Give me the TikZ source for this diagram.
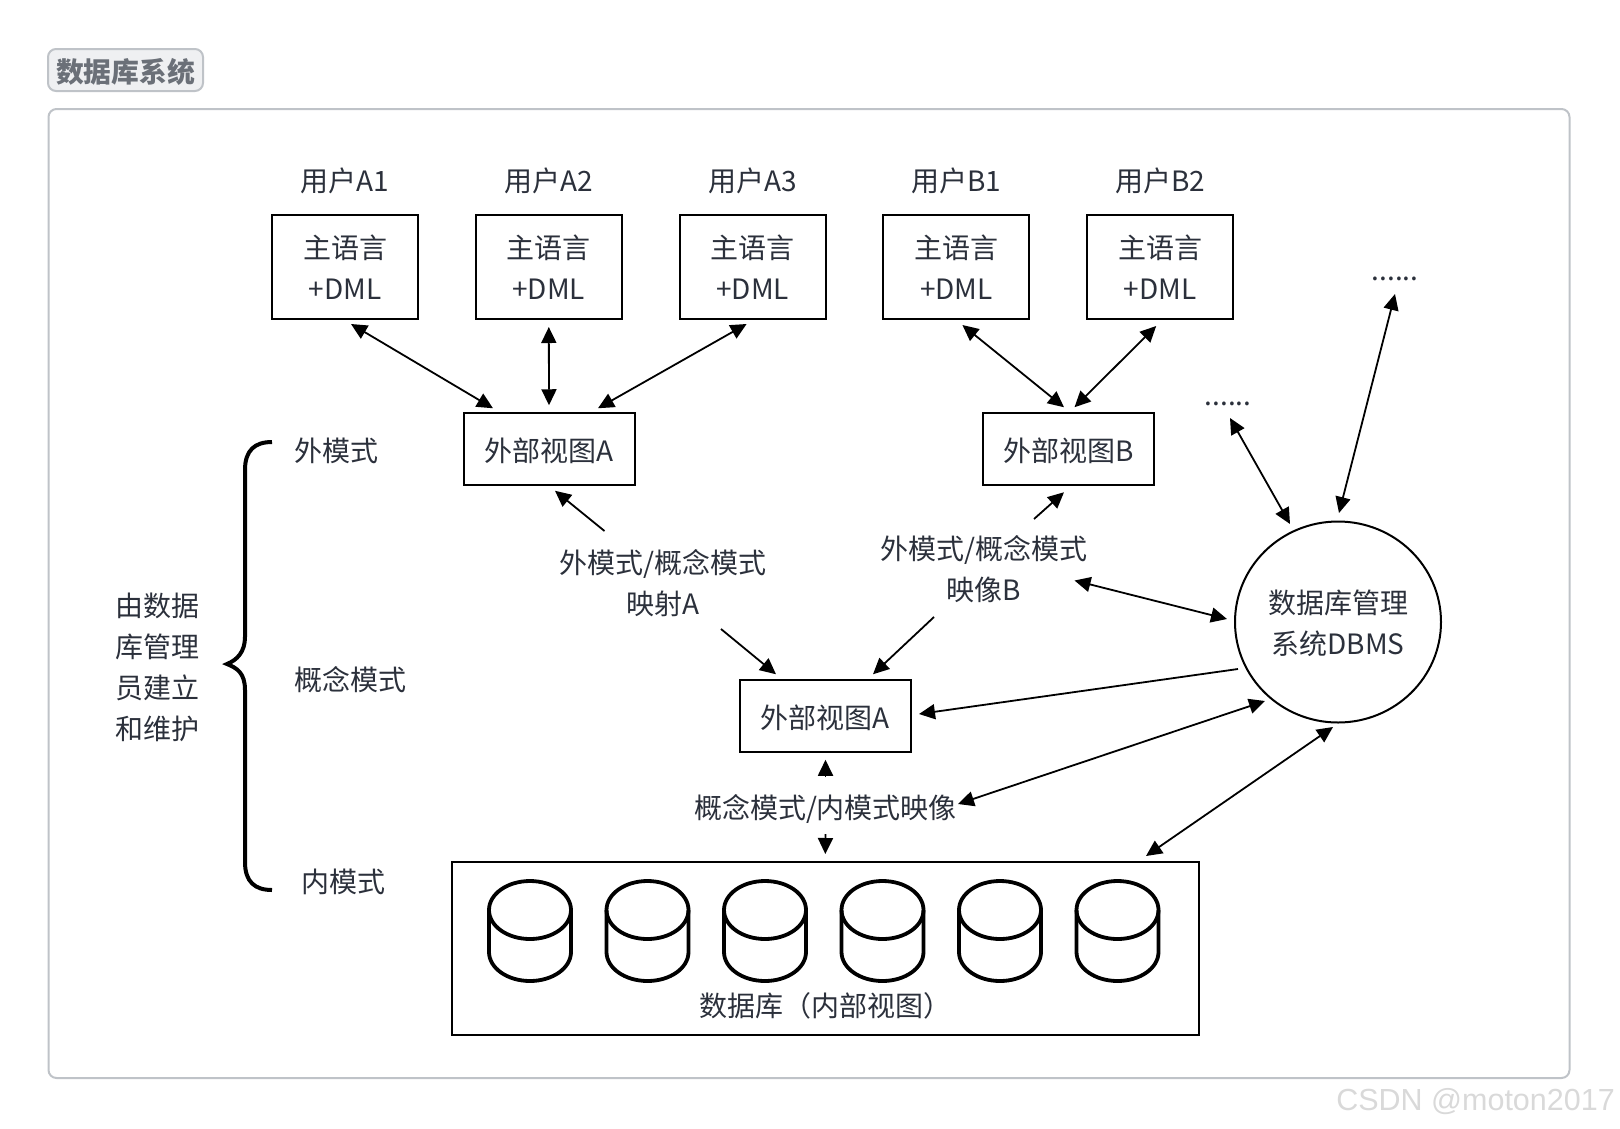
\documentclass[tikz,border=0pt]{standalone}
\usepackage{xcolor}
\usepackage{fontspec}
\usepackage{tikz}
\usetikzlibrary{arrows.meta,positioning,shapes.geometric}
\setmainfont{Noto Sans CJK SC}
\setsansfont{Liberation Sans}
\definecolor{inkgray}{HTML}{2B303B}
\definecolor{framegray}{HTML}{BFC3C8}
\definecolor{tagfill}{HTML}{EFF0F2}
\definecolor{taggray}{HTML}{6B7078}
\definecolor{markgray}{HTML}{D9D9D9}
\begin{document}
\begin{tikzpicture}[
    x=1pt, y=-1pt,
    node distance=55.8pt,
    every node/.style={text=inkgray, inner sep=0pt, font=\fontsize{28}{41}\selectfont, align=center},
    oneline/.style={text height=25.5pt, text depth=0pt},
    twoline/.style={text height=65.2pt, text depth=0pt},
    hostbox/.style={draw=black, line width=2pt, minimum width=146pt, minimum height=104pt, twoline},
    viewbox/.style={draw=black, line width=2pt, minimum width=171pt, minimum height=71.5pt, oneline},
    arrow/.style={{Triangle[length=16pt,width=15pt]}-{Triangle[length=16pt,width=15pt]}, line width=1.8pt, draw=black},
    toarrow/.style={-{Triangle[length=16pt,width=15pt]}, line width=1.8pt, draw=black},
    drum/.style={draw=black, line width=3.8pt, line join=round}
]
\useasboundingbox (0,0) rectangle (1620,1128);
\node[draw=framegray, line width=2pt, rounded corners=8pt, minimum width=1521pt, minimum height=969pt] (frame) at (809,593.5) {};
\node[draw=framegray, fill=tagfill, line width=2pt, rounded corners=8pt, minimum width=155pt, minimum height=42pt, oneline, text=taggray, font=\fontsize{27.8}{34}\selectfont\bfseries] (tag) at (125.5,70) {数据库系统};
\node[hostbox] (hostA1) at (345,267) {主语言\\+DML};
\node[hostbox, right=of hostA1] (hostA2) {主语言\\+DML};
\node[hostbox, right=of hostA2] (hostA3) {主语言\\+DML};
\node[hostbox, right=of hostA3] (hostB1) {主语言\\+DML};
\node[hostbox, right=of hostB1] (hostB2) {主语言\\+DML};
\node[above=20pt of hostA1] (userA1) {用户A1};
\node[above=20pt of hostA2] (userA2) {用户A2};
\node[above=20pt of hostA3] (userA3) {用户A3};
\node[above=20pt of hostB1] (userB1) {用户B1};
\node[above=20pt of hostB2] (userB2) {用户B2};
\node[viewbox] (viewA) at (549,449) {外部视图A};
\node[viewbox] (viewB) at (1068.5,449) {外部视图B};
\node[viewbox] (viewC) at (825.5,716) {外部视图A};
\node (mapA) at (663,583) {外模式/概念模式\\映射A};
\node (mapB) at (984,569.5) {外模式/概念模式\\映像B};
\node (mapC) at (825.5,809) {概念模式/内模式映像};
\node[draw=black, line width=2pt, ellipse, minimum width=206pt, minimum height=201pt, twoline] (dbms) at (1338,622) {数据库管理\\系统DBMS};
\node[anchor=base] (dotsLow) at (1228,405) {......};
\node[anchor=base] (dotsHigh) at (1395,280) {......};
\node[draw=black, line width=2pt, minimum width=746.5pt, minimum height=173pt] (store) at (825.3,948.5) {};
\node (storelabel) at (825.5,1006) {数据库（内部视图）};
\node (schemaExt) at (336,451) {外模式};
\node (schemaCon) at (350,680) {概念模式};
\node (schemaInt) at (343,882) {内模式};
\node (admin) at (157,667.5) {由数据\\库管理\\员建立\\和维护};
\node[text=markgray, font=\sffamily\fontsize{30.5}{34}\selectfont, anchor=east] (mark) at (1615,1102) {CSDN @moton2017};
\foreach \x in {530,647.5,765,882.5,1000,1117.5}{
    \draw[drum] (\x,910) ellipse (41pt and 29pt);
    \draw[drum] (\x-41,910) -- (\x-41,952) arc (180:360:41pt and 29pt) -- (\x+41,910);
}
\draw[line width=4pt, black] (272,442) .. controls (255,442) and (245,450) .. (245,470) -- (245,637) .. controls (245,652) and (237,660) .. (227,664) .. controls (237,668) and (245,673) .. (245,690) -- (245,862) .. controls (245,882) and (255,890) .. (272,890);
\draw[arrow] ([shift={(6,4)}]hostA1.south) -- ([shift={(-56,-4)}]viewA.north);
\draw[arrow] ([shift={(0,7)}]hostA2.south) -- ([shift={(0,-7)}]viewA.north);
\draw[arrow] ([shift={(-6,4)}]hostA3.south) -- ([shift={(49,-4)}]viewA.north);
\draw[arrow] ([shift={(6,5)}]hostB1.south) -- ([shift={(-4.5,-5)}]viewB.north);
\draw[arrow] ([shift={(-4,6)}]hostB2.south) -- ([shift={(6,-5)}]viewB.north);
\draw[toarrow] ([shift={(-58.5,-52)}]mapA.center) -- ([shift={(6,5)}]viewA.south);
\draw[toarrow] ([shift={(58,46)}]mapA.center) -- ([shift={(-49.5,-5)}]viewC.north);
\draw[toarrow] ([shift={(50,-50.5)}]mapB.center) -- ([shift={(-4.5,6.5)}]viewB.south);
\draw[toarrow] ([shift={(-50,47.5)}]mapB.center) -- ([shift={(47.5,-5)}]viewC.north);
\draw[toarrow] ([shift={(0,-32)}]mapC.center) -- ([shift={(0,7)}]viewC.south);
\draw[toarrow] ([shift={(0,25)}]mapC.center) -- ([shift={(0,-7)}]store.north);
\draw[arrow] ([shift={(2,13)}]dotsLow.base) -- ([shift={(-48,-98)}]dbms.center);
\draw[arrow] ([shift={(0,14)}]dotsHigh.base) -- ([shift={(1,-109)}]dbms.center);
\draw[arrow] ([shift={(90.5,11)}]mapB.center) -- ([shift={(-111,-3)}]dbms.center);
\draw[toarrow] ([shift={(-100,47)}]dbms.center) -- ([shift={(7,-2)}]viewC.east);
\draw[arrow] ([shift={(132.5,-5)}]mapC.center) -- ([shift={(-73,79)}]dbms.center);
\draw[arrow] ([shift={(320.7,-5)}]store.north) -- ([shift={(-5,105)}]dbms.center);
\end{tikzpicture}
\end{document}
